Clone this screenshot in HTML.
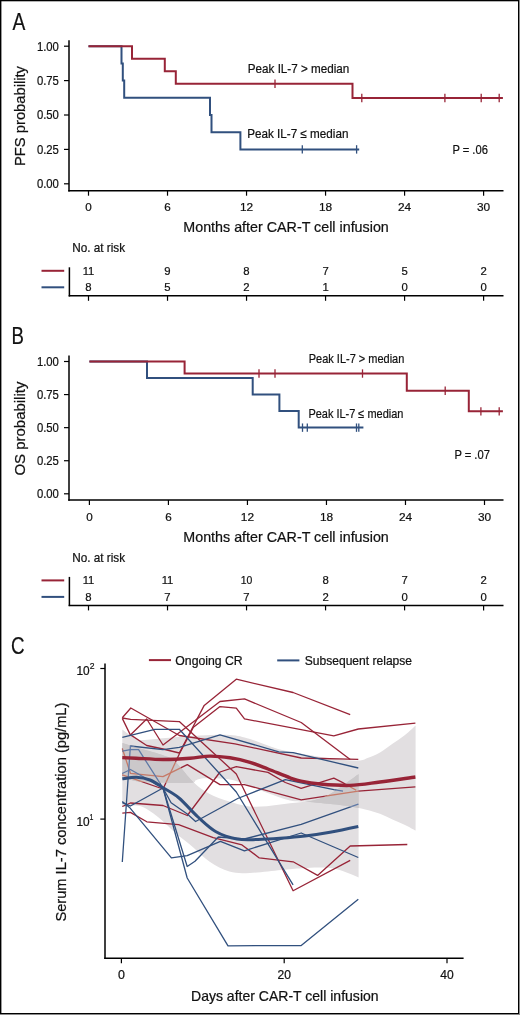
<!DOCTYPE html><html><head><meta charset="utf-8"><style>html,body{margin:0;padding:0;background:#fff;}svg{display:block;will-change:transform;} text{font-family:"Liberation Sans",sans-serif;fill:#111;stroke:#111;stroke-width:0.22px;}</style></head><body>
<svg width="520" height="1015" viewBox="0 0 520 1015">
<rect width="520" height="1015" fill="#fff"/>
<text x="12.6" y="29.6" font-size="24.5" text-anchor="start" textLength="12.8" lengthAdjust="spacingAndGlyphs" >A</text>
<line x1="69" y1="40.2" x2="69" y2="191.45" stroke="#000" stroke-width="1.5"/>
<line x1="68.25" y1="190.7" x2="503.5" y2="190.7" stroke="#000" stroke-width="1.5"/>
<line x1="64" y1="183.8" x2="69" y2="183.8" stroke="#000" stroke-width="1.2"/>
<text x="58.9" y="188.1" font-size="12.4" text-anchor="end" textLength="22" lengthAdjust="spacingAndGlyphs" >0.00</text>
<line x1="64" y1="149.4" x2="69" y2="149.4" stroke="#000" stroke-width="1.2"/>
<text x="58.9" y="153.7" font-size="12.4" text-anchor="end" textLength="22" lengthAdjust="spacingAndGlyphs" >0.25</text>
<line x1="64" y1="115.00000000000001" x2="69" y2="115.00000000000001" stroke="#000" stroke-width="1.2"/>
<text x="58.9" y="119.3" font-size="12.4" text-anchor="end" textLength="22" lengthAdjust="spacingAndGlyphs" >0.50</text>
<line x1="64" y1="80.60000000000002" x2="69" y2="80.60000000000002" stroke="#000" stroke-width="1.2"/>
<text x="58.9" y="84.9" font-size="12.4" text-anchor="end" textLength="22" lengthAdjust="spacingAndGlyphs" >0.75</text>
<line x1="64" y1="46.20000000000002" x2="69" y2="46.20000000000002" stroke="#000" stroke-width="1.2"/>
<text x="58.9" y="50.5" font-size="12.4" text-anchor="end" textLength="22" lengthAdjust="spacingAndGlyphs" >1.00</text>
<line x1="88.5" y1="190.7" x2="88.5" y2="195.7" stroke="#000" stroke-width="1.2"/>
<text x="88.5" y="211.29999999999998" font-size="11.8" text-anchor="middle" textLength="6.5" lengthAdjust="spacingAndGlyphs" >0</text>
<line x1="167.51999999999998" y1="190.7" x2="167.51999999999998" y2="195.7" stroke="#000" stroke-width="1.2"/>
<text x="167.5" y="211.29999999999998" font-size="11.8" text-anchor="middle" textLength="6.5" lengthAdjust="spacingAndGlyphs" >6</text>
<line x1="246.54" y1="190.7" x2="246.54" y2="195.7" stroke="#000" stroke-width="1.2"/>
<text x="246.5" y="211.29999999999998" font-size="11.8" text-anchor="middle" textLength="13.2" lengthAdjust="spacingAndGlyphs" >12</text>
<line x1="325.56" y1="190.7" x2="325.56" y2="195.7" stroke="#000" stroke-width="1.2"/>
<text x="325.6" y="211.29999999999998" font-size="11.8" text-anchor="middle" textLength="13.2" lengthAdjust="spacingAndGlyphs" >18</text>
<line x1="404.58" y1="190.7" x2="404.58" y2="195.7" stroke="#000" stroke-width="1.2"/>
<text x="404.6" y="211.29999999999998" font-size="11.8" text-anchor="middle" textLength="13.2" lengthAdjust="spacingAndGlyphs" >24</text>
<line x1="483.6" y1="190.7" x2="483.6" y2="195.7" stroke="#000" stroke-width="1.2"/>
<text x="483.6" y="211.29999999999998" font-size="11.8" text-anchor="middle" textLength="13.2" lengthAdjust="spacingAndGlyphs" >30</text>
<text x="183.3" y="232.39999999999998" font-size="14.6" text-anchor="start" textLength="205.5" lengthAdjust="spacingAndGlyphs" >Months after CAR-T cell infusion</text>
<text transform="translate(24.6,116.0) rotate(-90)" font-size="14.4" text-anchor="middle" textLength="100" lengthAdjust="spacingAndGlyphs">PFS probability</text>
<path d="M88.5,46.2 H121.5 V63.4 H122.8 V80.6 H124.2 V97.8 H210 V115.0 H211.5 V132.2 H240.4 V149.4 H359.2" fill="none" stroke="#31507e" stroke-width="2" />
<line x1="302.3" y1="145.20000000000002" x2="302.3" y2="153.6" stroke="#31507e" stroke-width="1.3"/>
<line x1="356.6" y1="145.20000000000002" x2="356.6" y2="153.6" stroke="#31507e" stroke-width="1.3"/>
<path d="M88.5,46.2 H132 V58.7 H164.8 V71.2 H175.8 V83.7 H352.5 V98.0 H502.9" fill="none" stroke="#982437" stroke-width="2" />
<line x1="275" y1="79.52727272727273" x2="275" y2="87.92727272727274" stroke="#982437" stroke-width="1.3"/>
<line x1="361.8" y1="93.82337662337663" x2="361.8" y2="102.22337662337664" stroke="#982437" stroke-width="1.3"/>
<line x1="444.9" y1="93.82337662337663" x2="444.9" y2="102.22337662337664" stroke="#982437" stroke-width="1.3"/>
<line x1="481.2" y1="93.82337662337663" x2="481.2" y2="102.22337662337664" stroke="#982437" stroke-width="1.3"/>
<line x1="499.2" y1="93.82337662337663" x2="499.2" y2="102.22337662337664" stroke="#982437" stroke-width="1.3"/>
<text x="247.8" y="72.8" font-size="12.6" text-anchor="start" textLength="101.5" lengthAdjust="spacingAndGlyphs" >Peak IL-7 &gt; median</text>
<text x="247.2" y="137.9" font-size="12.6" text-anchor="start" textLength="101.2" lengthAdjust="spacingAndGlyphs" >Peak IL-7 ≤ median</text>
<text x="452.4" y="154.2" font-size="12.6" text-anchor="start" textLength="35.5" lengthAdjust="spacingAndGlyphs" >P = .06</text>
<text x="72.3" y="252.1" font-size="12.2" text-anchor="start" textLength="52.8" lengthAdjust="spacingAndGlyphs" >No. at risk</text>
<line x1="41.5" y1="270.8" x2="64.2" y2="270.8" stroke="#982437" stroke-width="2"/>
<line x1="41.5" y1="287.3" x2="64.2" y2="287.3" stroke="#31507e" stroke-width="2"/>
<line x1="69.4" y1="267.3" x2="69.4" y2="296.5" stroke="#000" stroke-width="1.5"/>
<line x1="68.65" y1="295.8" x2="503.5" y2="295.8" stroke="#000" stroke-width="1.5"/>
<line x1="88.5" y1="295.8" x2="88.5" y2="300.8" stroke="#000" stroke-width="1.2"/>
<text x="88.5" y="274.8" font-size="11.8" text-anchor="middle" textLength="11.6" lengthAdjust="spacingAndGlyphs" >11</text>
<text x="88.5" y="291.3" font-size="11.8" text-anchor="middle" textLength="6.3" lengthAdjust="spacingAndGlyphs" >8</text>
<line x1="167.51999999999998" y1="295.8" x2="167.51999999999998" y2="300.8" stroke="#000" stroke-width="1.2"/>
<text x="167.5" y="274.8" font-size="11.8" text-anchor="middle" textLength="6.3" lengthAdjust="spacingAndGlyphs" >9</text>
<text x="167.5" y="291.3" font-size="11.8" text-anchor="middle" textLength="6.3" lengthAdjust="spacingAndGlyphs" >5</text>
<line x1="246.54" y1="295.8" x2="246.54" y2="300.8" stroke="#000" stroke-width="1.2"/>
<text x="246.5" y="274.8" font-size="11.8" text-anchor="middle" textLength="6.3" lengthAdjust="spacingAndGlyphs" >8</text>
<text x="246.5" y="291.3" font-size="11.8" text-anchor="middle" textLength="6.3" lengthAdjust="spacingAndGlyphs" >2</text>
<line x1="325.56" y1="295.8" x2="325.56" y2="300.8" stroke="#000" stroke-width="1.2"/>
<text x="325.6" y="274.8" font-size="11.8" text-anchor="middle" textLength="6.3" lengthAdjust="spacingAndGlyphs" >7</text>
<text x="325.6" y="291.3" font-size="11.8" text-anchor="middle" textLength="6.3" lengthAdjust="spacingAndGlyphs" >1</text>
<line x1="404.58" y1="295.8" x2="404.58" y2="300.8" stroke="#000" stroke-width="1.2"/>
<text x="404.6" y="274.8" font-size="11.8" text-anchor="middle" textLength="6.3" lengthAdjust="spacingAndGlyphs" >5</text>
<text x="404.6" y="291.3" font-size="11.8" text-anchor="middle" textLength="6.3" lengthAdjust="spacingAndGlyphs" >0</text>
<line x1="483.6" y1="295.8" x2="483.6" y2="300.8" stroke="#000" stroke-width="1.2"/>
<text x="483.6" y="274.8" font-size="11.8" text-anchor="middle" textLength="6.3" lengthAdjust="spacingAndGlyphs" >2</text>
<text x="483.6" y="291.3" font-size="11.8" text-anchor="middle" textLength="6.3" lengthAdjust="spacingAndGlyphs" >0</text>
<text x="11.6" y="344.3" font-size="24.5" text-anchor="start" textLength="12.4" lengthAdjust="spacingAndGlyphs" >B</text>
<line x1="69" y1="355.6" x2="69" y2="500.75" stroke="#000" stroke-width="1.5"/>
<line x1="68.25" y1="500.0" x2="503.5" y2="500.0" stroke="#000" stroke-width="1.5"/>
<line x1="64" y1="493.8" x2="69" y2="493.8" stroke="#000" stroke-width="1.2"/>
<text x="58.9" y="498.1" font-size="12.4" text-anchor="end" textLength="22" lengthAdjust="spacingAndGlyphs" >0.00</text>
<line x1="64" y1="460.725" x2="69" y2="460.725" stroke="#000" stroke-width="1.2"/>
<text x="58.9" y="465.0" font-size="12.4" text-anchor="end" textLength="22" lengthAdjust="spacingAndGlyphs" >0.25</text>
<line x1="64" y1="427.65" x2="69" y2="427.65" stroke="#000" stroke-width="1.2"/>
<text x="58.9" y="431.9" font-size="12.4" text-anchor="end" textLength="22" lengthAdjust="spacingAndGlyphs" >0.50</text>
<line x1="64" y1="394.575" x2="69" y2="394.575" stroke="#000" stroke-width="1.2"/>
<text x="58.9" y="398.9" font-size="12.4" text-anchor="end" textLength="22" lengthAdjust="spacingAndGlyphs" >0.75</text>
<line x1="64" y1="361.5" x2="69" y2="361.5" stroke="#000" stroke-width="1.2"/>
<text x="58.9" y="365.8" font-size="12.4" text-anchor="end" textLength="22" lengthAdjust="spacingAndGlyphs" >1.00</text>
<line x1="89.4" y1="500.0" x2="89.4" y2="505.0" stroke="#000" stroke-width="1.2"/>
<text x="89.4" y="520.6" font-size="11.8" text-anchor="middle" textLength="6.5" lengthAdjust="spacingAndGlyphs" >0</text>
<line x1="168.42000000000002" y1="500.0" x2="168.42000000000002" y2="505.0" stroke="#000" stroke-width="1.2"/>
<text x="168.4" y="520.6" font-size="11.8" text-anchor="middle" textLength="6.5" lengthAdjust="spacingAndGlyphs" >6</text>
<line x1="247.44" y1="500.0" x2="247.44" y2="505.0" stroke="#000" stroke-width="1.2"/>
<text x="247.4" y="520.6" font-size="11.8" text-anchor="middle" textLength="13.2" lengthAdjust="spacingAndGlyphs" >12</text>
<line x1="326.46000000000004" y1="500.0" x2="326.46000000000004" y2="505.0" stroke="#000" stroke-width="1.2"/>
<text x="326.5" y="520.6" font-size="11.8" text-anchor="middle" textLength="13.2" lengthAdjust="spacingAndGlyphs" >18</text>
<line x1="405.48" y1="500.0" x2="405.48" y2="505.0" stroke="#000" stroke-width="1.2"/>
<text x="405.5" y="520.6" font-size="11.8" text-anchor="middle" textLength="13.2" lengthAdjust="spacingAndGlyphs" >24</text>
<line x1="484.5" y1="500.0" x2="484.5" y2="505.0" stroke="#000" stroke-width="1.2"/>
<text x="484.5" y="520.6" font-size="11.8" text-anchor="middle" textLength="13.2" lengthAdjust="spacingAndGlyphs" >30</text>
<text x="183.3" y="541.7" font-size="14.6" text-anchor="start" textLength="205.5" lengthAdjust="spacingAndGlyphs" >Months after CAR-T cell infusion</text>
<text transform="translate(24.6,428.6) rotate(-90)" font-size="14.4" text-anchor="middle" textLength="94" lengthAdjust="spacingAndGlyphs">OS probability</text>
<path d="M89.4,361.5 H147 V378.0 H252.7 V394.6 H279.4 V411.1 H298.7 V427.6 H363.4" fill="none" stroke="#31507e" stroke-width="2" />
<line x1="302.5" y1="423.45" x2="302.5" y2="431.84999999999997" stroke="#31507e" stroke-width="1.3"/>
<line x1="307.3" y1="423.45" x2="307.3" y2="431.84999999999997" stroke="#31507e" stroke-width="1.3"/>
<line x1="356.5" y1="423.45" x2="356.5" y2="431.84999999999997" stroke="#31507e" stroke-width="1.3"/>
<line x1="358.8" y1="423.45" x2="358.8" y2="431.84999999999997" stroke="#31507e" stroke-width="1.3"/>
<path d="M89.4,361.5 H184.6 V373.5 H406.8 V390.7 H468.8 V411.3 H502.9" fill="none" stroke="#982437" stroke-width="2" />
<line x1="259" y1="369.3272727272727" x2="259" y2="377.7272727272727" stroke="#982437" stroke-width="1.3"/>
<line x1="275" y1="369.3272727272727" x2="275" y2="377.7272727272727" stroke="#982437" stroke-width="1.3"/>
<line x1="362.5" y1="369.3272727272727" x2="362.5" y2="377.7272727272727" stroke="#982437" stroke-width="1.3"/>
<line x1="445.2" y1="386.50909090909096" x2="445.2" y2="394.90909090909093" stroke="#982437" stroke-width="1.3"/>
<line x1="480.9" y1="407.1272727272727" x2="480.9" y2="415.5272727272727" stroke="#982437" stroke-width="1.3"/>
<line x1="499.2" y1="407.1272727272727" x2="499.2" y2="415.5272727272727" stroke="#982437" stroke-width="1.3"/>
<text x="308.8" y="362.6" font-size="12.6" text-anchor="start" textLength="95.5" lengthAdjust="spacingAndGlyphs" >Peak IL-7 &gt; median</text>
<text x="308.4" y="417.8" font-size="12.6" text-anchor="start" textLength="95.0" lengthAdjust="spacingAndGlyphs" >Peak IL-7 ≤ median</text>
<text x="454.4" y="459.1" font-size="12.6" text-anchor="start" textLength="35.5" lengthAdjust="spacingAndGlyphs" >P = .07</text>
<text x="72.3" y="561.7" font-size="12.2" text-anchor="start" textLength="52.8" lengthAdjust="spacingAndGlyphs" >No. at risk</text>
<line x1="41.5" y1="580.4000000000001" x2="64.2" y2="580.4000000000001" stroke="#982437" stroke-width="2"/>
<line x1="41.5" y1="596.9000000000001" x2="64.2" y2="596.9000000000001" stroke="#31507e" stroke-width="2"/>
<line x1="69.4" y1="576.9000000000001" x2="69.4" y2="606.1" stroke="#000" stroke-width="1.5"/>
<line x1="68.65" y1="605.4000000000001" x2="503.5" y2="605.4000000000001" stroke="#000" stroke-width="1.5"/>
<line x1="88.5" y1="605.4000000000001" x2="88.5" y2="610.4000000000001" stroke="#000" stroke-width="1.2"/>
<text x="88.5" y="584.4" font-size="11.8" text-anchor="middle" textLength="11.6" lengthAdjust="spacingAndGlyphs" >11</text>
<text x="88.5" y="600.9" font-size="11.8" text-anchor="middle" textLength="6.3" lengthAdjust="spacingAndGlyphs" >8</text>
<line x1="167.51999999999998" y1="605.4000000000001" x2="167.51999999999998" y2="610.4000000000001" stroke="#000" stroke-width="1.2"/>
<text x="167.5" y="584.4" font-size="11.8" text-anchor="middle" textLength="11.6" lengthAdjust="spacingAndGlyphs" >11</text>
<text x="167.5" y="600.9" font-size="11.8" text-anchor="middle" textLength="6.3" lengthAdjust="spacingAndGlyphs" >7</text>
<line x1="246.54" y1="605.4000000000001" x2="246.54" y2="610.4000000000001" stroke="#000" stroke-width="1.2"/>
<text x="246.5" y="584.4" font-size="11.8" text-anchor="middle" textLength="11.6" lengthAdjust="spacingAndGlyphs" >10</text>
<text x="246.5" y="600.9" font-size="11.8" text-anchor="middle" textLength="6.3" lengthAdjust="spacingAndGlyphs" >7</text>
<line x1="325.56" y1="605.4000000000001" x2="325.56" y2="610.4000000000001" stroke="#000" stroke-width="1.2"/>
<text x="325.6" y="584.4" font-size="11.8" text-anchor="middle" textLength="6.3" lengthAdjust="spacingAndGlyphs" >8</text>
<text x="325.6" y="600.9" font-size="11.8" text-anchor="middle" textLength="6.3" lengthAdjust="spacingAndGlyphs" >2</text>
<line x1="404.58" y1="605.4000000000001" x2="404.58" y2="610.4000000000001" stroke="#000" stroke-width="1.2"/>
<text x="404.6" y="584.4" font-size="11.8" text-anchor="middle" textLength="6.3" lengthAdjust="spacingAndGlyphs" >7</text>
<text x="404.6" y="600.9" font-size="11.8" text-anchor="middle" textLength="6.3" lengthAdjust="spacingAndGlyphs" >0</text>
<line x1="483.6" y1="605.4000000000001" x2="483.6" y2="610.4000000000001" stroke="#000" stroke-width="1.2"/>
<text x="483.6" y="584.4" font-size="11.8" text-anchor="middle" textLength="6.3" lengthAdjust="spacingAndGlyphs" >2</text>
<text x="483.6" y="600.9" font-size="11.8" text-anchor="middle" textLength="6.3" lengthAdjust="spacingAndGlyphs" >0</text>
<text x="11.1" y="654.0" font-size="24.5" text-anchor="start" textLength="13.5" lengthAdjust="spacingAndGlyphs" >C</text>
<defs>
<clipPath id="cr"><path d="M122.3,729.5 C123.6,730.4 127.0,733.2 130.0,735.0 C132.9,736.8 134.0,739.5 140.0,740.0 C146.0,740.5 156.0,738.8 166.0,738.0 C176.0,737.2 189.3,736.0 200.0,735.5 C210.7,735.0 221.7,734.4 230.0,735.0 C238.3,735.6 242.0,736.7 250.0,739.0 C258.0,741.3 268.7,746.4 278.0,749.0 C287.3,751.6 296.5,752.9 306.0,754.6 C315.5,756.3 326.3,758.0 335.0,759.0 C343.7,760.0 353.0,760.8 358.4,760.6 C363.8,760.5 363.9,759.5 367.5,758.1 C371.1,756.8 375.8,754.9 380.0,752.5 C384.2,750.1 388.3,746.7 392.5,743.8 C396.7,740.9 401.1,738.0 405.0,735.0 C408.9,732.0 413.8,727.2 415.6,725.6 L415.6,830.6 C413.8,829.7 408.9,826.9 405.0,825.0 C401.1,823.1 396.7,821.3 392.5,819.4 C388.3,817.5 384.2,815.4 380.0,813.8 C375.8,812.2 371.1,811.0 367.5,810.0 C363.9,809.0 363.0,808.8 358.4,808.0 C353.8,807.2 348.1,806.0 340.0,805.0 C331.9,804.0 318.3,802.8 310.0,802.0 C301.7,801.2 297.2,801.9 290.0,800.4 C282.8,798.9 273.9,795.3 266.9,792.7 C259.8,790.1 254.1,787.2 247.7,785.0 C241.3,782.8 235.6,780.3 228.5,779.2 C221.4,778.1 210.8,778.1 205.4,778.3 C200.0,778.5 198.1,779.5 196.0,780.2 C193.9,780.9 196.5,782.0 193.0,782.5 C189.5,783.0 183.8,783.0 175.0,782.9 C166.2,782.8 148.8,782.7 140.0,781.7 C131.2,780.7 125.2,777.8 122.3,777.0 Z"/></clipPath>
<clipPath id="cb"><path d="M122.3,743.0 C124.9,743.8 131.6,745.8 138.0,747.7 C144.4,749.6 154.8,752.3 161.0,754.6 C167.2,756.9 169.6,756.9 175.0,761.5 C180.4,766.1 187.6,776.6 193.3,782.0 C199.0,787.4 203.3,790.5 209.2,793.7 C215.1,796.9 222.1,799.2 228.5,801.3 C234.9,803.4 241.3,805.4 247.7,806.2 C254.1,807.0 259.8,806.7 266.9,806.2 C273.9,805.7 282.8,804.2 290.0,803.3 C297.2,802.4 303.3,802.5 310.0,801.0 C316.7,799.5 321.9,798.5 330.0,794.0 C338.1,789.5 353.8,777.3 358.6,774.0 L358.6,877.5 C355.6,876.3 346.2,871.9 340.4,870.3 C334.5,868.6 329.9,868.0 323.5,867.6 C317.1,867.2 309.1,867.8 302.0,868.2 C294.9,868.6 289.7,869.2 281.0,870.0 C272.3,870.8 258.6,872.7 250.0,873.0 C241.4,873.3 236.1,873.5 229.4,871.6 C222.7,869.7 215.7,865.7 209.7,861.7 C203.7,857.7 199.0,852.2 193.3,847.4 C187.6,842.6 181.4,838.1 175.5,833.0 C169.6,827.9 163.9,821.5 158.0,817.0 C152.1,812.5 145.9,807.7 140.0,806.0 C134.1,804.3 125.2,806.8 122.3,807.0 Z"/></clipPath>
</defs>
<path d="M122.3,729.5 C123.6,730.4 127.0,733.2 130.0,735.0 C132.9,736.8 134.0,739.5 140.0,740.0 C146.0,740.5 156.0,738.8 166.0,738.0 C176.0,737.2 189.3,736.0 200.0,735.5 C210.7,735.0 221.7,734.4 230.0,735.0 C238.3,735.6 242.0,736.7 250.0,739.0 C258.0,741.3 268.7,746.4 278.0,749.0 C287.3,751.6 296.5,752.9 306.0,754.6 C315.5,756.3 326.3,758.0 335.0,759.0 C343.7,760.0 353.0,760.8 358.4,760.6 C363.8,760.5 363.9,759.5 367.5,758.1 C371.1,756.8 375.8,754.9 380.0,752.5 C384.2,750.1 388.3,746.7 392.5,743.8 C396.7,740.9 401.1,738.0 405.0,735.0 C408.9,732.0 413.8,727.2 415.6,725.6 L415.6,830.6 C413.8,829.7 408.9,826.9 405.0,825.0 C401.1,823.1 396.7,821.3 392.5,819.4 C388.3,817.5 384.2,815.4 380.0,813.8 C375.8,812.2 371.1,811.0 367.5,810.0 C363.9,809.0 363.0,808.8 358.4,808.0 C353.8,807.2 348.1,806.0 340.0,805.0 C331.9,804.0 318.3,802.8 310.0,802.0 C301.7,801.2 297.2,801.9 290.0,800.4 C282.8,798.9 273.9,795.3 266.9,792.7 C259.8,790.1 254.1,787.2 247.7,785.0 C241.3,782.8 235.6,780.3 228.5,779.2 C221.4,778.1 210.8,778.1 205.4,778.3 C200.0,778.5 198.1,779.5 196.0,780.2 C193.9,780.9 196.5,782.0 193.0,782.5 C189.5,783.0 183.8,783.0 175.0,782.9 C166.2,782.8 148.8,782.7 140.0,781.7 C131.2,780.7 125.2,777.8 122.3,777.0 Z" fill="#e2dfe1"/>
<path d="M122.3,743.0 C124.9,743.8 131.6,745.8 138.0,747.7 C144.4,749.6 154.8,752.3 161.0,754.6 C167.2,756.9 169.6,756.9 175.0,761.5 C180.4,766.1 187.6,776.6 193.3,782.0 C199.0,787.4 203.3,790.5 209.2,793.7 C215.1,796.9 222.1,799.2 228.5,801.3 C234.9,803.4 241.3,805.4 247.7,806.2 C254.1,807.0 259.8,806.7 266.9,806.2 C273.9,805.7 282.8,804.2 290.0,803.3 C297.2,802.4 303.3,802.5 310.0,801.0 C316.7,799.5 321.9,798.5 330.0,794.0 C338.1,789.5 353.8,777.3 358.6,774.0 L358.6,877.5 C355.6,876.3 346.2,871.9 340.4,870.3 C334.5,868.6 329.9,868.0 323.5,867.6 C317.1,867.2 309.1,867.8 302.0,868.2 C294.9,868.6 289.7,869.2 281.0,870.0 C272.3,870.8 258.6,872.7 250.0,873.0 C241.4,873.3 236.1,873.5 229.4,871.6 C222.7,869.7 215.7,865.7 209.7,861.7 C203.7,857.7 199.0,852.2 193.3,847.4 C187.6,842.6 181.4,838.1 175.5,833.0 C169.6,827.9 163.9,821.5 158.0,817.0 C152.1,812.5 145.9,807.7 140.0,806.0 C134.1,804.3 125.2,806.8 122.3,807.0 Z" fill="#e2dfe1"/>
<g clip-path="url(#cr)"><path d="M122.3,743.0 C124.9,743.8 131.6,745.8 138.0,747.7 C144.4,749.6 154.8,752.3 161.0,754.6 C167.2,756.9 169.6,756.9 175.0,761.5 C180.4,766.1 187.6,776.6 193.3,782.0 C199.0,787.4 203.3,790.5 209.2,793.7 C215.1,796.9 222.1,799.2 228.5,801.3 C234.9,803.4 241.3,805.4 247.7,806.2 C254.1,807.0 259.8,806.7 266.9,806.2 C273.9,805.7 282.8,804.2 290.0,803.3 C297.2,802.4 303.3,802.5 310.0,801.0 C316.7,799.5 321.9,798.5 330.0,794.0 C338.1,789.5 353.8,777.3 358.6,774.0 L358.6,877.5 C355.6,876.3 346.2,871.9 340.4,870.3 C334.5,868.6 329.9,868.0 323.5,867.6 C317.1,867.2 309.1,867.8 302.0,868.2 C294.9,868.6 289.7,869.2 281.0,870.0 C272.3,870.8 258.6,872.7 250.0,873.0 C241.4,873.3 236.1,873.5 229.4,871.6 C222.7,869.7 215.7,865.7 209.7,861.7 C203.7,857.7 199.0,852.2 193.3,847.4 C187.6,842.6 181.4,838.1 175.5,833.0 C169.6,827.9 163.9,821.5 158.0,817.0 C152.1,812.5 145.9,807.7 140.0,806.0 C134.1,804.3 125.2,806.8 122.3,807.0 Z" fill="#cbc8ca"/></g>
<path d="M122.3,717.7 L130.8,708.0 L179.3,735.5 L235.0,743.8 L301.2,758.0 L358.3,759.4" fill="none" stroke="#982437" stroke-width="1.3" stroke-linejoin="round"/>
<path d="M122.3,718.0 L130.6,719.3 L179.3,721.6 L236.3,774.0 L293.1,890.7 L350.2,860.4" fill="none" stroke="#982437" stroke-width="1.3" stroke-linejoin="round"/>
<path d="M130.4,735.0 L146.7,719.0 L163.0,745.0 L220.0,701.5 L244.5,698.9 L301.2,722.5 L350.2,759.4" fill="none" stroke="#982437" stroke-width="1.3" stroke-linejoin="round"/>
<path d="M122.3,718.4 L130.2,734.6 L146.7,745.5 L163.0,749.0 L179.3,753.0 L204.2,705.4 L236.3,679.2 L293.1,692.5 L350.2,714.7" fill="none" stroke="#982437" stroke-width="1.3" stroke-linejoin="round"/>
<path d="M122.3,813.2 L130.4,812.4 L146.8,821.8 L178.6,824.7 L213.2,837.7 L242.0,844.9 L259.3,857.9 L293.1,861.8 L317.6,875.4 L350.2,846.0 L407.3,844.5" fill="none" stroke="#982437" stroke-width="1.3" stroke-linejoin="round"/>
<path d="M122.3,748.5 L130.4,773.3 L163.0,776.7 L187.3,764.6 L220.0,784.6 L244.4,784.6 L301.2,799.8 L358.3,791.1 L415.4,786.8" fill="none" stroke="#982437" stroke-width="1.3" stroke-linejoin="round"/>
<path d="M122.3,774.8 L163.0,789.0 L179.3,754.0 L193.4,727.3 L220.0,706.6 L236.3,708.2 L244.5,718.9 L333.8,735.8 L358.3,729.0 L415.4,723.2" fill="none" stroke="#982437" stroke-width="1.3" stroke-linejoin="round"/>
<path d="M122.3,806.5 L130.4,803.0 L163.0,805.5 L187.3,815.5 L220.0,772.0 L236.3,766.7 L268.0,772.4 L285.3,782.5 L301.2,788.3 L333.8,778.2 L342.3,782.4 L356.2,790.2" fill="none" stroke="#982437" stroke-width="1.3" stroke-linejoin="round"/>
<path d="M122.3,737.3 L154.9,729.3 L179.3,729.3 L236.3,792.0 L293.1,884.9" fill="none" stroke="#31507e" stroke-width="1.3" stroke-linejoin="round"/>
<path d="M122.3,862.0 L130.4,746.0 L163.0,749.6 L179.3,747.3 L220.0,734.8 L278.8,751.8 L293.1,752.6 L358.3,768.0" fill="none" stroke="#31507e" stroke-width="1.3" stroke-linejoin="round"/>
<path d="M122.3,751.2 L130.4,749.6 L138.6,749.6 L163.0,788.0 L187.2,878.0 L228.0,945.8 L301.2,945.5 L358.3,899.3" fill="none" stroke="#31507e" stroke-width="1.3" stroke-linejoin="round"/>
<path d="M122.3,802.7 L130.4,806.0 L163.0,788.0 L187.2,866.5 L195.0,861.3 L218.3,837.0 L244.4,839.0 L301.2,824.3 L358.3,804.1" fill="none" stroke="#31507e" stroke-width="1.3" stroke-linejoin="round"/>
<path d="M122.3,773.5 L130.4,769.5 L163.0,788.0 L171.1,802.7 L187.3,814.0 L195.6,821.5 L237.7,798.5 L285.3,779.6 L333.8,789.7 L343.0,791.1" fill="none" stroke="#31507e" stroke-width="1.3" stroke-linejoin="round"/>
<path d="M122.3,801.6 L129.5,807.4 L171.4,857.9 L187.2,855.6 L220.4,841.3 L244.4,850.8 L301.2,833.0 L358.3,857.5" fill="none" stroke="#31507e" stroke-width="1.3" stroke-linejoin="round"/>
<g clip-path="url(#cr)"><g clip-path="url(#cb)">
<path d="M122.3,743.0 C124.9,743.8 131.6,745.8 138.0,747.7 C144.4,749.6 154.8,752.3 161.0,754.6 C167.2,756.9 169.6,756.9 175.0,761.5 C180.4,766.1 187.6,776.6 193.3,782.0 C199.0,787.4 203.3,790.5 209.2,793.7 C215.1,796.9 222.1,799.2 228.5,801.3 C234.9,803.4 241.3,805.4 247.7,806.2 C254.1,807.0 259.8,806.7 266.9,806.2 C273.9,805.7 282.8,804.2 290.0,803.3 C297.2,802.4 303.3,802.5 310.0,801.0 C316.7,799.5 321.9,798.5 330.0,794.0 C338.1,789.5 353.8,777.3 358.6,774.0 L358.6,877.5 C355.6,876.3 346.2,871.9 340.4,870.3 C334.5,868.6 329.9,868.0 323.5,867.6 C317.1,867.2 309.1,867.8 302.0,868.2 C294.9,868.6 289.7,869.2 281.0,870.0 C272.3,870.8 258.6,872.7 250.0,873.0 C241.4,873.3 236.1,873.5 229.4,871.6 C222.7,869.7 215.7,865.7 209.7,861.7 C203.7,857.7 199.0,852.2 193.3,847.4 C187.6,842.6 181.4,838.1 175.5,833.0 C169.6,827.9 163.9,821.5 158.0,817.0 C152.1,812.5 145.9,807.7 140.0,806.0 C134.1,804.3 125.2,806.8 122.3,807.0 Z" fill="#cbc8ca"/>
<path d="M122.3,717.7 L130.8,708.0 L179.3,735.5 L235.0,743.8 L301.2,758.0 L358.3,759.4" fill="none" stroke="#c67a68" stroke-width="1.3" stroke-linejoin="round"/>
<path d="M122.3,718.0 L130.6,719.3 L179.3,721.6 L236.3,774.0 L293.1,890.7 L350.2,860.4" fill="none" stroke="#c67a68" stroke-width="1.3" stroke-linejoin="round"/>
<path d="M130.4,735.0 L146.7,719.0 L163.0,745.0 L220.0,701.5 L244.5,698.9 L301.2,722.5 L350.2,759.4" fill="none" stroke="#c67a68" stroke-width="1.3" stroke-linejoin="round"/>
<path d="M122.3,718.4 L130.2,734.6 L146.7,745.5 L163.0,749.0 L179.3,753.0 L204.2,705.4 L236.3,679.2 L293.1,692.5 L350.2,714.7" fill="none" stroke="#c67a68" stroke-width="1.3" stroke-linejoin="round"/>
<path d="M122.3,813.2 L130.4,812.4 L146.8,821.8 L178.6,824.7 L213.2,837.7 L242.0,844.9 L259.3,857.9 L293.1,861.8 L317.6,875.4 L350.2,846.0 L407.3,844.5" fill="none" stroke="#c67a68" stroke-width="1.3" stroke-linejoin="round"/>
<path d="M122.3,748.5 L130.4,773.3 L163.0,776.7 L187.3,764.6 L220.0,784.6 L244.4,784.6 L301.2,799.8 L358.3,791.1 L415.4,786.8" fill="none" stroke="#c67a68" stroke-width="1.3" stroke-linejoin="round"/>
<path d="M122.3,774.8 L163.0,789.0 L179.3,754.0 L193.4,727.3 L220.0,706.6 L236.3,708.2 L244.5,718.9 L333.8,735.8 L358.3,729.0 L415.4,723.2" fill="none" stroke="#c67a68" stroke-width="1.3" stroke-linejoin="round"/>
<path d="M122.3,806.5 L130.4,803.0 L163.0,805.5 L187.3,815.5 L220.0,772.0 L236.3,766.7 L268.0,772.4 L285.3,782.5 L301.2,788.3 L333.8,778.2 L342.3,782.4 L356.2,790.2" fill="none" stroke="#c67a68" stroke-width="1.3" stroke-linejoin="round"/>
<path d="M122.3,737.3 L154.9,729.3 L179.3,729.3 L236.3,792.0 L293.1,884.9" fill="none" stroke="#5f79a6" stroke-width="1.3" stroke-linejoin="round"/>
<path d="M122.3,862.0 L130.4,746.0 L163.0,749.6 L179.3,747.3 L220.0,734.8 L278.8,751.8 L293.1,752.6 L358.3,768.0" fill="none" stroke="#5f79a6" stroke-width="1.3" stroke-linejoin="round"/>
<path d="M122.3,751.2 L130.4,749.6 L138.6,749.6 L163.0,788.0 L187.2,878.0 L228.0,945.8 L301.2,945.5 L358.3,899.3" fill="none" stroke="#5f79a6" stroke-width="1.3" stroke-linejoin="round"/>
<path d="M122.3,802.7 L130.4,806.0 L163.0,788.0 L187.2,866.5 L195.0,861.3 L218.3,837.0 L244.4,839.0 L301.2,824.3 L358.3,804.1" fill="none" stroke="#5f79a6" stroke-width="1.3" stroke-linejoin="round"/>
<path d="M122.3,773.5 L130.4,769.5 L163.0,788.0 L171.1,802.7 L187.3,814.0 L195.6,821.5 L237.7,798.5 L285.3,779.6 L333.8,789.7 L343.0,791.1" fill="none" stroke="#5f79a6" stroke-width="1.3" stroke-linejoin="round"/>
<path d="M122.3,801.6 L129.5,807.4 L171.4,857.9 L187.2,855.6 L220.4,841.3 L244.4,850.8 L301.2,833.0 L358.3,857.5" fill="none" stroke="#5f79a6" stroke-width="1.3" stroke-linejoin="round"/>
</g></g>
<path d="M122.3,757.6 C124.6,757.7 129.2,757.9 136.0,758.2 C142.8,758.5 154.0,759.5 163.0,759.5 C172.0,759.5 182.2,758.9 190.0,758.3 C197.8,757.7 203.3,756.2 210.0,756.1 C216.7,756.0 223.3,756.8 230.0,757.8 C236.7,758.8 243.7,760.4 250.0,762.3 C256.3,764.2 261.3,766.4 268.0,769.0 C274.7,771.6 284.5,775.8 290.0,777.8 C295.5,779.8 296.0,780.2 301.0,781.2 C306.0,782.2 311.8,783.3 320.0,784.0 C328.2,784.7 340.0,785.7 350.0,785.4 C360.0,785.1 369.1,783.4 380.0,782.0 C390.9,780.6 409.5,777.8 415.4,777.0" fill="none" stroke="#982437" stroke-width="3.4" stroke-linecap="butt"/>
<path d="M122.3,778.8 C124.7,778.5 131.9,777.0 136.5,777.2 C141.1,777.4 145.6,778.2 150.0,780.0 C154.4,781.8 158.2,784.7 163.0,787.7 C167.8,790.7 173.2,793.1 179.0,798.0 C184.8,802.9 191.8,811.4 198.0,817.0 C204.2,822.6 209.5,828.0 216.0,831.7 C222.5,835.4 230.0,837.7 237.0,839.0 C244.0,840.3 250.8,839.6 258.0,839.5 C265.2,839.4 272.2,838.9 280.0,838.3 C287.8,837.7 296.7,837.0 305.0,836.0 C313.3,835.0 321.1,833.8 330.0,832.2 C338.9,830.6 353.6,827.5 358.3,826.5" fill="none" stroke="#31507e" stroke-width="3.0" stroke-linecap="butt"/>
<line x1="105" y1="663.4" x2="105" y2="958.95" stroke="#000" stroke-width="1.5"/>
<line x1="104.25" y1="958.2" x2="463.6" y2="958.2" stroke="#000" stroke-width="1.5"/>
<line x1="100.3" y1="668.5" x2="105" y2="668.5" stroke="#000" stroke-width="1.2"/>
<text x="89.6" y="674.9" font-size="12.0" text-anchor="end" textLength="13.2" lengthAdjust="spacingAndGlyphs" >10</text>
<text x="89.8" y="669.1" font-size="9.6" text-anchor="start" textLength="4.8" lengthAdjust="spacingAndGlyphs" >2</text>
<line x1="100.3" y1="819.1" x2="105" y2="819.1" stroke="#000" stroke-width="1.2"/>
<text x="89.6" y="825.5" font-size="12.0" text-anchor="end" textLength="13.2" lengthAdjust="spacingAndGlyphs" >10</text>
<text x="89.6" y="820.4" font-size="9.6" text-anchor="start" textLength="3.9" lengthAdjust="spacingAndGlyphs" >1</text>
<line x1="121.4" y1="958.2" x2="121.4" y2="963.2" stroke="#000" stroke-width="1.2"/>
<text x="121.4" y="978.8" font-size="11.9" text-anchor="middle" textLength="6.9" lengthAdjust="spacingAndGlyphs" >0</text>
<line x1="284.20000000000005" y1="958.2" x2="284.20000000000005" y2="963.2" stroke="#000" stroke-width="1.2"/>
<text x="284.2" y="978.8" font-size="11.9" text-anchor="middle" textLength="13.4" lengthAdjust="spacingAndGlyphs" >20</text>
<line x1="447.0" y1="958.2" x2="447.0" y2="963.2" stroke="#000" stroke-width="1.2"/>
<text x="447.0" y="978.8" font-size="11.9" text-anchor="middle" textLength="13.4" lengthAdjust="spacingAndGlyphs" >40</text>
<text x="191.0" y="1000.6" font-size="14.2" text-anchor="start" textLength="187.6" lengthAdjust="spacingAndGlyphs" >Days after CAR-T cell infusion</text>
<text transform="translate(66.2,812.1) rotate(-90)" font-size="14.2" text-anchor="middle" textLength="219" lengthAdjust="spacingAndGlyphs">Serum IL-7 concentration (pg/mL)</text>
<line x1="148.9" y1="660.1" x2="171" y2="660.1" stroke="#982437" stroke-width="2"/>
<text x="175.3" y="664.7" font-size="12.4" text-anchor="start" textLength="67.4" lengthAdjust="spacingAndGlyphs" >Ongoing CR</text>
<line x1="277.2" y1="660.4" x2="299.4" y2="660.4" stroke="#31507e" stroke-width="2"/>
<text x="304.7" y="664.9" font-size="12.4" text-anchor="start" textLength="107.4" lengthAdjust="spacingAndGlyphs" >Subsequent relapse</text>
<rect x="0" y="0" width="520" height="1.3" fill="#000"/>
<rect x="0" y="0" width="1.4" height="1015" fill="#000"/>
<rect x="518" y="0" width="1" height="1015" fill="#000"/>
<rect x="519" y="0" width="1" height="1015" fill="#8a8a8a"/>
<rect x="0" y="1013" width="519" height="1" fill="#000"/>
<rect x="0" y="1014" width="520" height="1" fill="#8a8a8a"/>
</svg></body></html>
